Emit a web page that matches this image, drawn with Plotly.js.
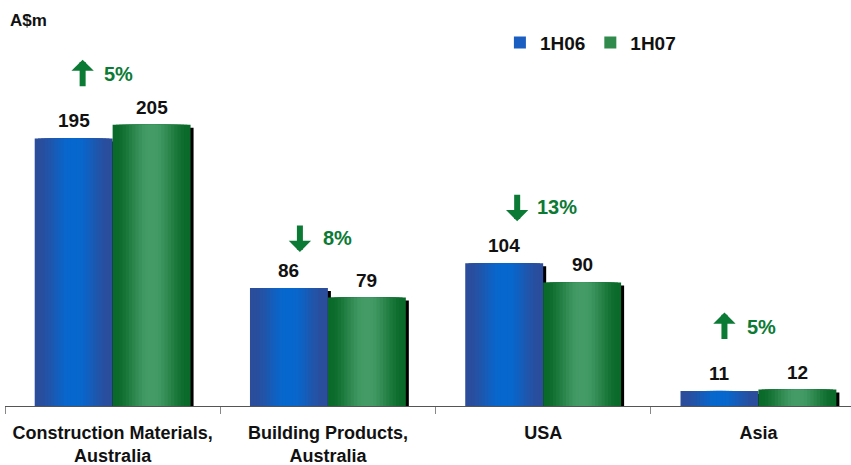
<!DOCTYPE html>
<html>
<head>
<meta charset="utf-8">
<script src="https://cdn.plot.ly/plotly-3.0.1.min.js"></script>
<style>html,body{margin:0;padding:0;background:#fff;}#chart{width:851px;height:465px;}</style>
</head>
<body>
<div id="chart"></div>
<script>
// ---- data ----
const categories = ['Construction Materials,<br>Australia', 'Building Products,<br>Australia', 'USA', 'Asia'];
const seriesNames = ['1H06', '1H07'];
const values1H06 = [195, 86, 104, 11];
const values1H07 = [205, 79, 90, 12];
const changePct = [5, -8, -13, 5];
const unitLabel = 'A$m';

// ---- styling ----
const FONT = 'Liberation Sans, Arial, sans-serif';
const barW = 0.362;              // width of one bar in category units
const centers = [-barW / 2, barW / 2];
const gradients = [
  { edge: [43, 77, 155], mid: [6, 104, 206], legend: '#1a5ec2' },
  { edge: [10, 106, 42], mid: [68, 155, 102], legend: '#2f8a4c' }
];
const N = 12;
const pctLift = [51, 50, 56, 63];      // px above taller bar
const arrowDx = [-30, -28, -26, -34];  // px from category centre
const textDx = [-11, -7, -8, -13];
const GREEN = '#0b7a34';

function mix(a, b, t) {
  return 'rgb(' + a.map((v, i) => Math.round(v + (b[i] - v) * t)).join(',') + ')';
}

const allSeries = [values1H06, values1H07];
const traces = [];
// shadows
allSeries.forEach((vals, s) => {
  traces.push({
    type: 'bar', x: categories, y: vals.map(v => v - 2.2),
    width: barW, offset: centers[s] - barW / 2 + 0.014,
    marker: { color: '#000', line: { width: 0 } },
    showlegend: false, hoverinfo: 'skip'
  });
});
// gradient layers
allSeries.forEach((vals, s) => {
  const g = gradients[s];
  for (let k = 0; k < N; k++) {
    const frac = 1 - k / N;
    const w = barW * frac;
    const t = k / (N - 1);
    const tt = t * t * (3 - 2 * t);
    traces.push({
      type: 'bar', x: categories, y: vals,
      width: w, offset: centers[s] - w / 2,
      marker: { color: mix(g.edge, g.mid, tt), line: { width: 0 } },
      showlegend: false, hoverinfo: 'skip'
    });
  }
  // legend entry (no visible bars)
  traces.push({
    type: 'bar', x: categories, y: vals.map(() => null),
    name: seriesNames[s], marker: { color: g.legend },
    showlegend: true, hoverinfo: 'skip'
  });
});

const annotations = [];
// value labels
allSeries.forEach((vals, s) => {
  vals.forEach((v, i) => {
    annotations.push({
      x: i, y: v, xref: 'x', yref: 'y', xshift: s === 0 ? -39 : 39, yshift: 5,
      text: '<b>' + v + '</b>', showarrow: false, yanchor: 'bottom', xanchor: 'center',
      font: { family: FONT, size: 19, color: '#111' }
    });
  });
});
// change indicators
changePct.forEach((p, i) => {
  const top = Math.max(values1H06[i], values1H07[i]);
  const up = p >= 0;
  annotations.push({
    x: i, y: top, xref: 'x', yref: 'y', xshift: arrowDx[i],
    yshift: pctLift[i] + (up ? 14 : -14),
    text: '', showarrow: true, ax: 0, ay: up ? 28 : -28,
    arrowhead: 1, arrowsize: 0.62, arrowwidth: 6, arrowcolor: GREEN, standoff: 0
  });
  annotations.push({
    x: i, y: top, xref: 'x', yref: 'y', xshift: textDx[i], yshift: pctLift[i],
    text: '<b>' + Math.abs(p) + '%</b>', showarrow: false, xanchor: 'left', yanchor: 'middle',
    font: { family: FONT, size: 20, color: GREEN }
  });
});
// unit label
annotations.push({
  x: 0, y: 1, xref: 'paper', yref: 'paper', xshift: 3, yshift: -12,
  text: '<b>' + unitLabel + '</b>', showarrow: false, xanchor: 'left', yanchor: 'middle',
  font: { family: FONT, size: 17, color: '#111' }
});

const layout = {
  width: 851, height: 465,
  margin: { l: 5, r: 0, t: 8, b: 59 },
  paper_bgcolor: '#fff', plot_bgcolor: '#fff',
  barmode: 'overlay',
  showlegend: true,
  legend: {
    orientation: 'h', x: 0.585, y: 0.913, xanchor: 'left', yanchor: 'middle',
    font: { family: FONT, size: 19, color: '#111', weight: 'bold' },
    bgcolor: 'rgba(0,0,0,0)', traceorder: 'normal', itemclick: false
  },
  xaxis: {
    type: 'category', range: [-0.5, 3.43], showgrid: false, zeroline: false,
    showline: true, linecolor: '#555', linewidth: 1,
    ticks: 'outside', tickson: 'boundaries', ticklen: 7, tickcolor: '#888', tickwidth: 1,
    ticklabelstandoff: 10,
    tickfont: { family: FONT, size: 18, color: '#111', weight: 'bold' },
    fixedrange: true
  },
  yaxis: {
    range: [0, 290], visible: false, showgrid: false, zeroline: false, fixedrange: true
  },
  annotations: annotations
};

Plotly.newPlot('chart', traces, layout, { displayModeBar: false, staticPlot: true });
</script>
</body>
</html>
